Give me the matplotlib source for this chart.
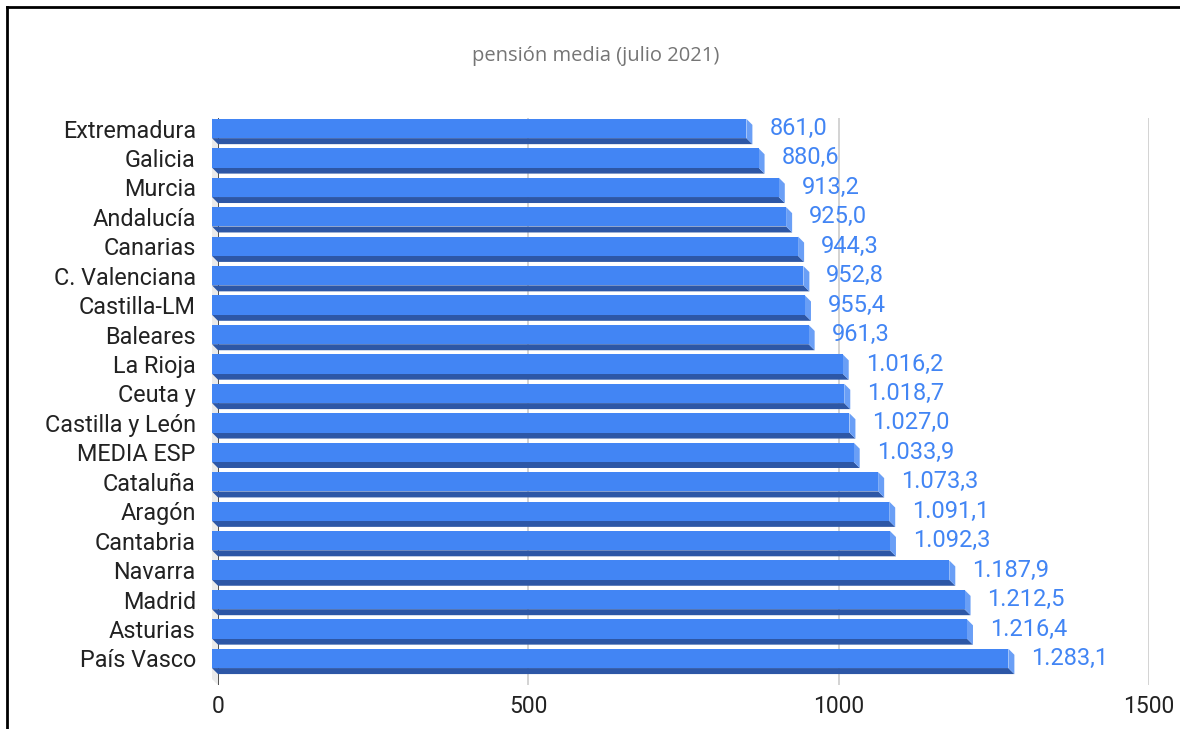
import matplotlib.pyplot as plt
from matplotlib.patches import Polygon

plt.rcParams['font.family'] = ['Roboto', 'DejaVu Sans']

regions = ['Extremadura', 'Galicia', 'Murcia', 'Andalucía', 'Canarias',
           'C. Valenciana', 'Castilla-LM', 'Baleares', 'La Rioja', 'Ceuta y',
           'Castilla y León', 'MEDIA ESP', 'Cataluña', 'Aragón', 'Cantabria',
           'Navarra', 'Madrid', 'Asturias', 'País Vasco']
pension = [861.0, 880.6, 913.2, 925.0, 944.3, 952.8, 955.4, 961.3, 1016.2,
           1018.7, 1027.0, 1033.9, 1073.3, 1091.1, 1092.3, 1187.9, 1212.5,
           1216.4, 1283.1]
xticks = [0, 500, 1000, 1500]

face = '#4285f4'
bottom_col = '#2d57a6'
side_col = '#6a9ff6'

W, H = 1180, 729
fig = plt.figure(figsize=(W / 100, H / 100), dpi=100)
left, right, top, bot = 218, 1149, 118, 685
ax = fig.add_axes([left / W, 1 - bot / H, (right - left) / W, (bot - top) / H])

n = len(regions)
px_y = 29.44
y_top = -16.5 / px_y
y_bot = y_top + (bot - top) / px_y
ax.set_xlim(0, 1500)
ax.set_ylim(y_bot, y_top)
px_x = (right - left) / 1500

dx = 6 / px_x   # depth in data units
dy = 6 / px_y
h = 19.3 / px_y

# 3d wall on the left
wall = Polygon([(-dx, y_top), (0, y_top + dy), (0, y_bot), (-dx, y_bot - dy)],
               closed=True, facecolor='#ebebeb', edgecolor='none', clip_on=False, zorder=0)
ax.add_patch(wall)

for xv in xticks[1:]:
    ax.axvline(xv, color='#cccccc', lw=1.2, zorder=0)
ax.axvline(0, color='#333333', lw=1.2, zorder=1)

for i, v in enumerate(pension):
    bottom = Polygon([(-dx, i - dy + h / 2), (v - dx, i - dy + h / 2), (v, i + h / 2), (0, i + h / 2)],
                     closed=True, facecolor=bottom_col, edgecolor='none', clip_on=False, zorder=2)
    side = Polygon([(v - dx, i - dy - h / 2), (v, i - h / 2), (v, i + h / 2), (v - dx, i - dy + h / 2)],
                   closed=True, facecolor=side_col, edgecolor='none', clip_on=False, zorder=2)
    ax.add_patch(bottom)
    ax.add_patch(side)
    label = f'{v:,.1f}'.replace(',', 'X').replace('.', ',').replace('X', '.')
    ax.text(v + 17 / px_x, i - dy, label, color=face, fontsize=17, va='center', ha='left')

ys = [i - dy for i in range(n)]
ax.barh(ys, pension, height=h, left=-dx, color=face, clip_on=False, zorder=3)

ax.set_yticks(ys)
ax.set_yticklabels(regions, fontsize=16.8, color='#222222')
ax.set_xticks(xticks)
ax.set_xticklabels([str(t) for t in xticks], fontsize=16.5, color='#222222')
ax.tick_params(axis='y', length=0, pad=16)
ax.tick_params(axis='x', length=0, pad=7)
for s in ax.spines.values():
    s.set_visible(False)

fig.text(596 / W, 1 - 56 / H, 'pensión media (julio 2021)', ha='center', va='center',
         fontsize=14.5, color='#757575', family=['Open Sans', 'DejaVu Sans'])

# frame of the screenshot (left and top edges only)
fig.add_artist(plt.Line2D([7 / W, 7 / W], [0, 1 - 7 / H], color='black', lw=2))
fig.add_artist(plt.Line2D([7 / W, 1], [1 - 7 / H, 1 - 7 / H], color='black', lw=2))

fig.savefig('out.png', dpi=100, facecolor='white')
